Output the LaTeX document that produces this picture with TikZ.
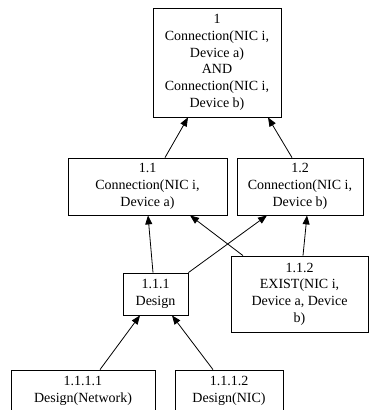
\documentclass[tikz,border=0pt]{standalone}
\usepackage{fontspec}
\setmainfont{Liberation Serif}
\usetikzlibrary{arrows.meta,calc}
\tikzset{
  box/.style={draw, rectangle, inner sep=0pt, align=center, line width=0.8pt,
    font=\fontsize{14}{16.7}\selectfont},
  edge/.style={line width=0.8pt, -{Triangle[length=9pt,width=7pt]}}
}
\begin{document}
\begin{tikzpicture}[x=1pt,y=-1pt]
\useasboundingbox (0,0) rectangle (377,410);
\node[box, minimum width=128pt, minimum height=109pt] (n1) at (217,62.5)
  {1\\Connection(NIC i,\\Device a)\\AND\\Connection(NIC i,\\Device b)};
\node[box, minimum width=159pt, minimum height=57pt] (n11) at (147.5,186.5)
  {1.1\\Connection(NIC i,\\Device a)};
\node[box, minimum width=126pt, minimum height=57pt] (n12) at (300,186.5)
  {1.2\\Connection(NIC i,\\Device b)};
\node[box, minimum width=65pt, minimum height=42pt] (n111) at (155.5,294)
  {1.1.1\\Design};
\node[box, minimum width=137pt, minimum height=76pt] (n112) at (299.5,294)
  {1.1.2\\EXIST(NIC i,\\Device a, Device\\b)};
\node[box, minimum width=144pt, minimum height=42pt] (n1111) at (83,391)
  {1.1.1.1\\Design(Network)};
\node[box, minimum width=108pt, minimum height=42pt] (n1112) at (229,391)
  {1.1.1.2\\Design(NIC)};
\draw[edge] ($(n11.north)+(17.5,0)$) -- ($(n1.south)+(-29,0)$);
\draw[edge] ($(n12.north)+(-8,0)$) -- ($(n1.south)+(51,0)$);
\draw[edge] ($(n111.north)+(-2.5,0)$) -- ($(n11.south)+(0.5,0)$);
\draw[edge] (n111.north east) -- ($(n12.south)+(-33,0)$);
\draw[edge] ($(n112.north)+(-56.5,0)$) -- ($(n11.south)+(42.5,0)$);
\draw[edge] ($(n112.north)+(3.5,0)$) -- ($(n12.south)+(7,0)$);
\draw[edge] ($(n1111.north)+(17,0)$) -- ($(n111.south)+(-15.5,0)$);
\draw[edge] ($(n1112.north)+(-16,0)$) -- ($(n111.south)+(16.5,0)$);
\end{tikzpicture}
\end{document}
